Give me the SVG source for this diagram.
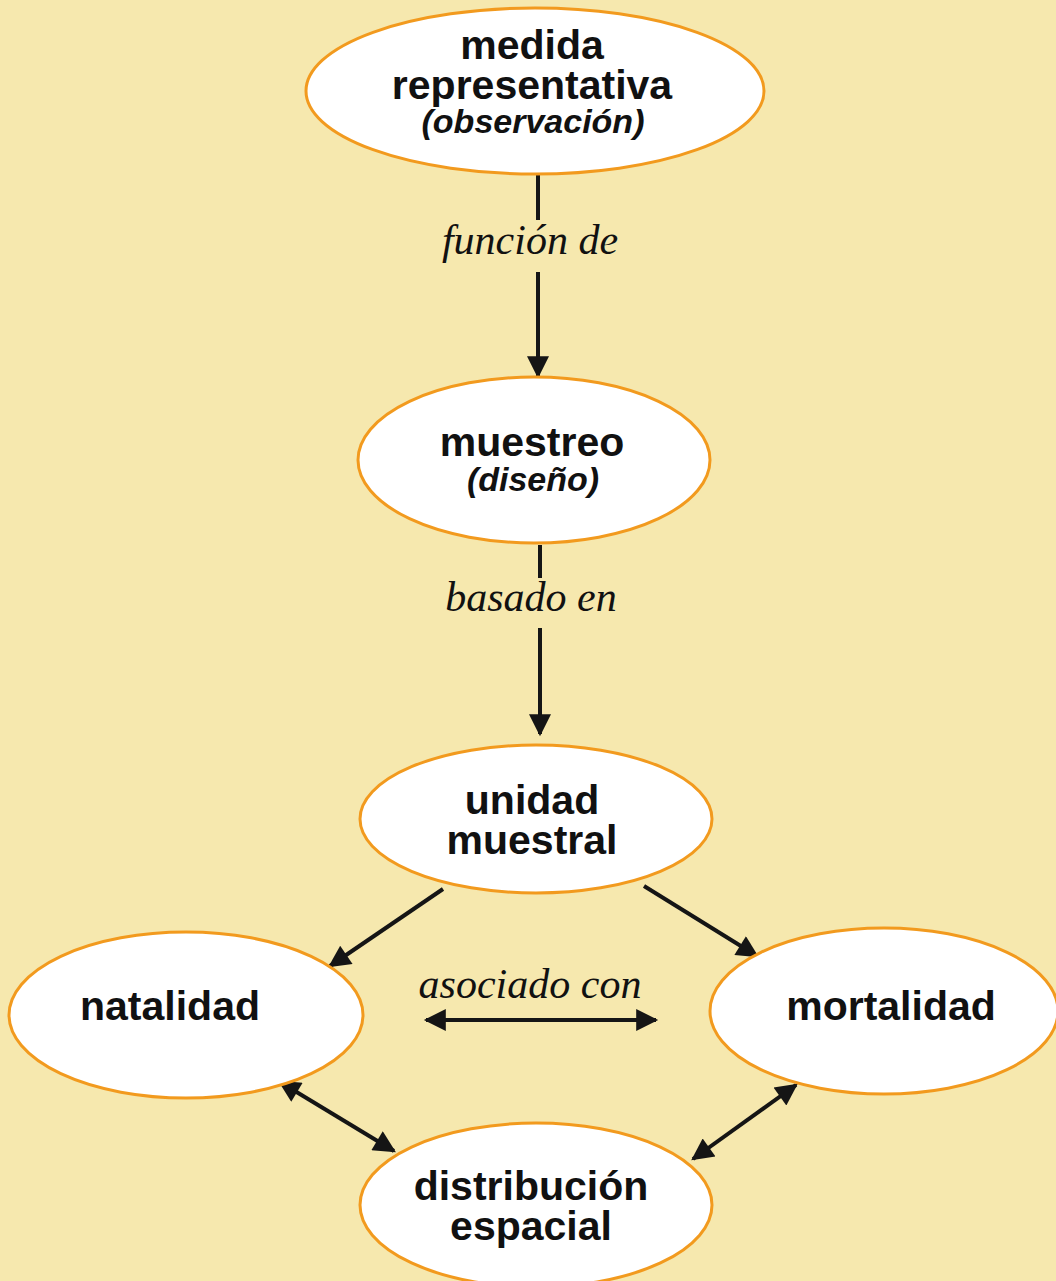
<svg xmlns="http://www.w3.org/2000/svg" width="1056" height="1281" viewBox="0 0 1056 1281">
<style>
.node{fill:#fff;stroke:#F29A1E;stroke-width:3}
.t{font-family:"Liberation Sans",Arial,sans-serif;font-weight:bold;font-size:41px;fill:#111;text-anchor:middle}
.ti{font-family:"Liberation Sans",Arial,sans-serif;font-weight:bold;font-style:italic;font-size:34px;fill:#111;text-anchor:middle}
.lbl{font-family:"Liberation Serif","Times New Roman",serif;font-style:italic;font-size:42px;fill:#111;text-anchor:middle}
.c{stroke:#151515;stroke-width:4;fill:none}
</style>
<defs>
<marker id="ah" viewBox="0 0 10 10" refX="9" refY="5" markerWidth="6.5" markerHeight="5.5" orient="auto-start-reverse" markerUnits="strokeWidth">
<path d="M0,0 L10,5 L0,10 z" fill="#151515"/>
</marker>
</defs>
<rect width="1056" height="1281" fill="#F6E8AE"/>
<g id="connectors">
<line class="c" x1="538" y1="175" x2="538" y2="220"/>
<line class="c" x1="538" y1="272" x2="538" y2="376" marker-end="url(#ah)"/>
<line class="c" x1="540" y1="545" x2="540" y2="578"/>
<line class="c" x1="540" y1="628" x2="540" y2="734" marker-end="url(#ah)"/>
<line class="c" x1="443" y1="889" x2="330" y2="966" marker-end="url(#ah)"/>
<line class="c" x1="644" y1="886" x2="757" y2="956" marker-end="url(#ah)"/>
<line class="c" x1="426" y1="1020" x2="656" y2="1020" marker-start="url(#ah)" marker-end="url(#ah)"/>
<line class="c" x1="280" y1="1082" x2="394" y2="1151" marker-start="url(#ah)" marker-end="url(#ah)"/>
<line class="c" x1="796" y1="1085" x2="693" y2="1159" marker-start="url(#ah)" marker-end="url(#ah)"/>
<text class="lbl" x="530" y="254">función de</text>
<text class="lbl" x="531" y="611">basado en</text>
<text class="lbl" x="530" y="998">asociado con</text>
</g>
<g id="n-medida">
<ellipse class="node" cx="535" cy="91" rx="229" ry="83"/>
<text class="t" x="532" y="59">medida</text>
<text class="t" x="532" y="99">representativa</text>
<text class="ti" x="533" y="133">(observación)</text>
</g>
<g id="n-muestreo">
<ellipse class="node" cx="534" cy="460" rx="176" ry="83"/>
<text class="t" x="532" y="456">muestreo</text>
<text class="ti" x="533" y="491">(diseño)</text>
</g>
<g id="n-unidad">
<ellipse class="node" cx="536" cy="819" rx="176" ry="74"/>
<text class="t" x="532" y="814">unidad</text>
<text class="t" x="532" y="854">muestral</text>
</g>
<g id="n-natalidad">
<ellipse class="node" cx="186" cy="1015" rx="177" ry="83"/>
<text class="t" x="170" y="1020">natalidad</text>
</g>
<g id="n-mortalidad">
<ellipse class="node" cx="884" cy="1011" rx="174" ry="83"/>
<text class="t" x="891" y="1020">mortalidad</text>
</g>
<g id="n-distribucion">
<ellipse class="node" cx="536" cy="1205" rx="176" ry="82"/>
<text class="t" x="531" y="1200">distribución</text>
<text class="t" x="531" y="1240">espacial</text>
</g>
</svg>
